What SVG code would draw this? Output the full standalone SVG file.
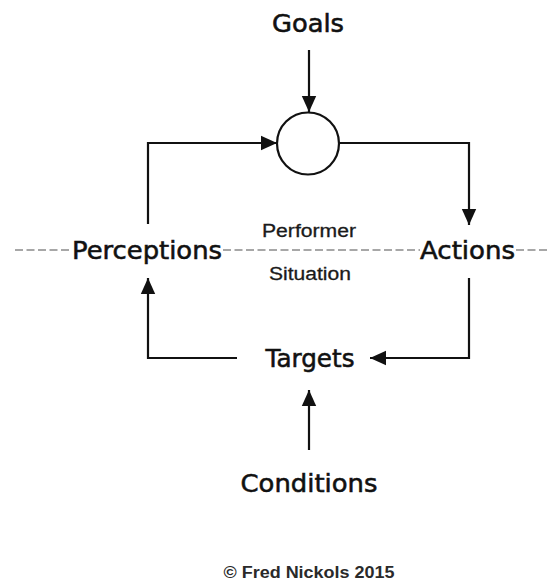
<svg xmlns="http://www.w3.org/2000/svg" width="550" height="584" viewBox="0 0 550 584">
<style>
.big{font-family:"DejaVu Sans",Verdana,sans-serif;font-size:24px;fill:#111;stroke:#111;stroke-width:0.55;text-anchor:middle}
.small{font-family:"Liberation Sans",Arial,sans-serif;font-size:18px;fill:#1a1a1a;stroke:#1a1a1a;stroke-width:0.3;text-anchor:middle}
.copy{font-family:"Liberation Sans",Arial,sans-serif;font-size:16px;font-weight:bold;fill:#2a2a2a;text-anchor:middle}
.conn{fill:none;stroke:#111;stroke-width:2.2}
.dash{stroke:#8a8a8a;stroke-width:1.6;stroke-dasharray:8 3.5;fill:none}
</style>
<defs>
<marker id="ah" viewBox="0 0 10 10" refX="10" refY="5" markerWidth="16" markerHeight="16" markerUnits="userSpaceOnUse" orient="auto">
<path d="M0,0.5 L10,5 L0,9.5 Z" fill="#111"/>
</marker>
</defs>
<rect width="550" height="584" fill="#fff"/>
<g id="boundary">
<line class="dash" x1="15" y1="250" x2="72" y2="250"/>
<line class="dash" x1="223" y1="250" x2="420" y2="250"/>
<line class="dash" x1="516" y1="250" x2="550" y2="250"/>
</g>
<g id="connectors">
<line class="conn" x1="309" y1="50" x2="309" y2="112" marker-end="url(#ah)"/>
<polyline class="conn" points="148,224 148,143 277,143" marker-end="url(#ah)"/>
<polyline class="conn" points="339,143 469,143 469,225" marker-end="url(#ah)"/>
<polyline class="conn" points="469,278 469,358 370,358" marker-end="url(#ah)"/>
<polyline class="conn" points="237,358 148,358 148,278" marker-end="url(#ah)"/>
<line class="conn" x1="309" y1="450" x2="309" y2="390" marker-end="url(#ah)"/>
</g>
<g id="goals"><text class="big" x="308" y="32" textLength="72" lengthAdjust="spacingAndGlyphs">Goals</text></g>
<g id="comparator"><circle cx="308" cy="143.5" r="31" fill="#fff" stroke="#111" stroke-width="2.2"/></g>
<g id="perceptions"><text class="big" x="147" y="259" textLength="150" lengthAdjust="spacingAndGlyphs">Perceptions</text></g>
<g id="actions"><text class="big" x="467.5" y="259" textLength="95" lengthAdjust="spacingAndGlyphs">Actions</text></g>
<g id="performer"><text class="small" x="309" y="237" textLength="94" lengthAdjust="spacingAndGlyphs">Performer</text></g>
<g id="situation"><text class="small" x="310" y="280" textLength="82" lengthAdjust="spacingAndGlyphs">Situation</text></g>
<g id="targets"><text class="big" x="310" y="367" textLength="89" lengthAdjust="spacingAndGlyphs">Targets</text></g>
<g id="conditions"><text class="big" x="309" y="492" style="font-size:25px" textLength="137" lengthAdjust="spacingAndGlyphs">Conditions</text></g>
<g id="copyright"><text class="copy" x="309" y="578" textLength="171" lengthAdjust="spacingAndGlyphs">© Fred Nickols 2015</text></g>
</svg>
